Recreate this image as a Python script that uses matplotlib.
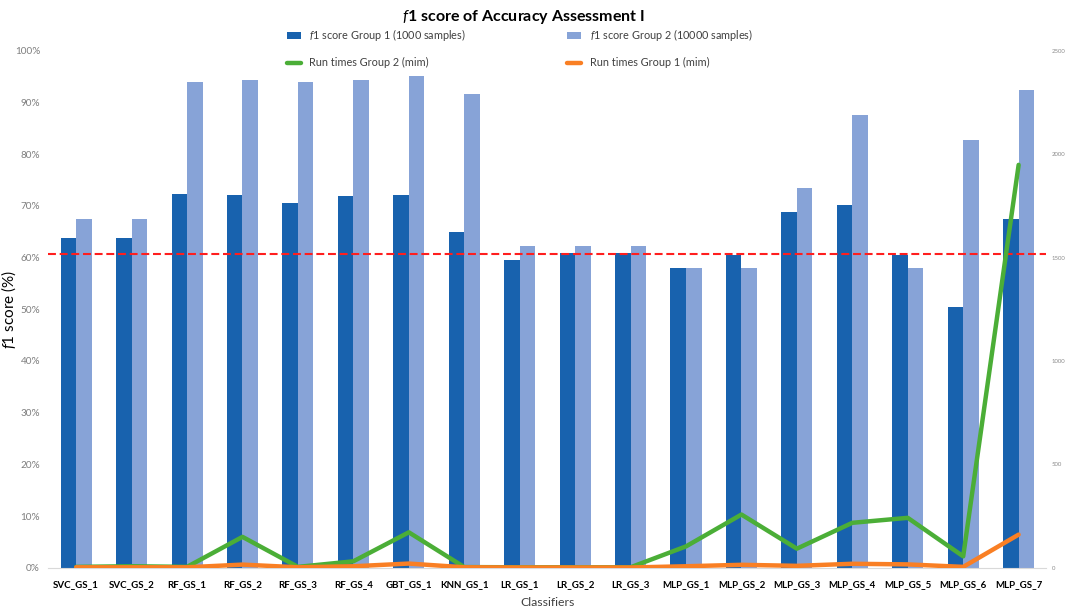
import matplotlib
matplotlib.use("Agg")
import matplotlib.pyplot as plt
import numpy as np

plt.rcParams['font.family'] = ['Lato', 'DejaVu Sans']
plt.rcParams['mathtext.fontset'] = 'custom'
plt.rcParams['mathtext.it'] = 'Lato:italic'
plt.rcParams['mathtext.bf'] = 'Lato:bold'

classifiers = ['SVC_GS_1', 'SVC_GS_2', 'RF_GS_1', 'RF_GS_2', 'RF_GS_3', 'RF_GS_4',
               'GBT_GS_1', 'KNN_GS_1', 'LR_GS_1', 'LR_GS_2', 'LR_GS_3', 'MLP_GS_1',
               'MLP_GS_2', 'MLP_GS_3', 'MLP_GS_4', 'MLP_GS_5', 'MLP_GS_6', 'MLP_GS_7']

# f1 scores (%)
f1_group1 = [63.8, 63.8, 72.3, 72.1, 70.5, 71.9, 72.1, 64.9, 59.6, 60.9, 60.9, 57.9,
             60.4, 68.9, 70.1, 60.4, 50.5, 67.4]
f1_group2 = [67.4, 67.4, 94.0, 94.3, 94.0, 94.3, 95.0, 91.6, 62.3, 62.3, 62.3, 57.9,
             57.9, 73.4, 87.5, 57.9, 82.8, 92.3]

# run times (min)
run_group2 = [5, 8, 5, 150, 5, 32, 172, 4, 3, 3, 3, 104, 258, 93, 218, 242, 56, 1948]
run_group1 = [3, 3, 3, 16, 3, 8, 21, 3, 2, 2, 2, 8, 15, 10, 20, 17, 5, 161]

reference_line = 60.7

dark_blue = '#1862AE'
light_blue = '#87A3D7'
green = '#4BAE37'
orange = '#F97F24'

fig = plt.figure(figsize=(10.65, 6.1), dpi=100)
ax = fig.add_axes([0.0455, 0.069, 0.937, 0.848])
x = np.arange(len(classifiers))
w = 0.28

b1 = ax.bar(x - w / 2, f1_group1, w, color=dark_blue, label=r'$\mathit{f}$1 score Group 1 (1000 samples)')
b2 = ax.bar(x + w / 2, f1_group2, w, color=light_blue, label=r'$\mathit{f}$1 score Group 2 (10000 samples)')
ax.axhline(reference_line, color='#FF1E1E', lw=1.5, ls=(0, (3.8, 1.8)), zorder=5)

ax.set_xlim(-0.5, len(classifiers) - 0.5)
ax.set_ylim(0, 100)
ax.set_yticks(np.arange(0, 101, 10))
ax.set_yticklabels([f'{v}%' for v in range(0, 101, 10)])
ax.set_xticks(x)
ax.set_xticklabels(classifiers, fontweight='bold', fontsize=7)
ax.tick_params(axis='y', colors='#7F7F7F', labelsize=7.2, length=0, pad=6)
ax.tick_params(axis='x', length=0, pad=9)
for s in ['top', 'right', 'left']:
    ax.spines[s].set_visible(False)
ax.spines['bottom'].set_color('#D9D9D9')
ax.set_ylabel(r'$\mathit{f}$1 score (%)', fontsize=11, va='center')
ax.yaxis.set_label_coords(-0.0395, 0.5)
ax.set_xlabel('Classifiers', fontsize=8.8, color='#404040', va='center')
ax.xaxis.set_label_coords(0.5, -0.0677)

ax2 = ax.twinx()
l2, = ax2.plot(x, run_group2, color=green, lw=3.2, solid_capstyle='round',
               solid_joinstyle='round', label='Run times Group 2 (mim)')
l1, = ax2.plot(x, run_group1, color=orange, lw=3.2, solid_capstyle='round',
               solid_joinstyle='round', label='Run times Group 1 (mim)')
ax2.set_ylim(0, 2500)
ax2.set_yticks(np.arange(0, 2501, 500))
ax2.tick_params(axis='y', colors='#8C8C8C', labelsize=4.3, length=0, pad=4)
for s in ax2.spines.values():
    s.set_visible(False)

fig.legend([b1, l2, b2, l1],
           [b1.get_label(), l2.get_label(), b2.get_label(), l1.get_label()],
           ncol=2, loc='center', bbox_to_anchor=(0.488, 0.922), frameon=False,
           fontsize=7.8, columnspacing=9.3, handlelength=1.3, handleheight=0.6,
           labelspacing=1.3, labelcolor='#404040')

fig.text(0.4915, 0.972, r'$\mathbf{\mathit{f}}$1 score of Accuracy Assessment I', ha='center',
         va='center', fontsize=11.5, fontweight='bold')

fig.savefig('out.png', dpi=100)
